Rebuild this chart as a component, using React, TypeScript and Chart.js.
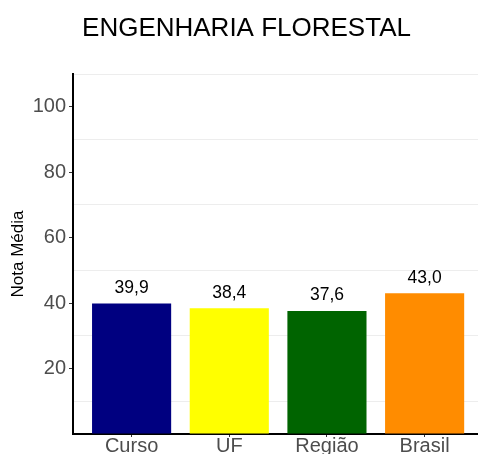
import React, { useEffect, useRef } from "react";
import { Chart, registerables } from "chart.js";

Chart.register(...registerables);

const titleText = "ENGENHARIA FLORESTAL";
const yAxisTitle = "Nota Média";
const categories = ["Curso", "UF", "Região", "Brasil"];
const values = [39.9, 38.4, 37.6, 43.0];
const barColors = ["#000080", "#ffff00", "#006400", "#ff8c00"];
const yTickLabels = [20, 40, 60, 80, 100];
const yMin = 0;
const yMax = 110;

const FONT = '"Liberation Sans", Arial, Helvetica, sans-serif';

const valueLabelPlugin = {
  id: "valueLabels",
  afterDatasetsDraw(chart: any) {
    const ctx = chart.ctx;
    const meta = chart.getDatasetMeta(0);
    ctx.save();
    ctx.font = `17.5px ${FONT}`;
    ctx.fillStyle = "#000000";
    ctx.textAlign = "center";
    ctx.textBaseline = "alphabetic";
    meta.data.forEach((bar: any, i: number) => {
      const label = values[i].toFixed(1).replace(".", ",");
      ctx.fillText(label, bar.x, bar.y - 10.5);
    });
    ctx.restore();
  },
};

export default function App() {
  const canvasRef = useRef<HTMLCanvasElement | null>(null);

  useEffect(() => {
    if (!canvasRef.current) return;
    const transparent = "rgba(0,0,0,0)";
    const chart = new Chart(canvasRef.current, {
      type: "bar",
      data: {
        datasets: [
          {
            data: values.map((v, i) => ({ x: i, y: v })),
            backgroundColor: barColors,
            borderWidth: 0,
            barPercentage: 0.81,
            categoryPercentage: 1,
          },
        ],
      },
      options: {
        responsive: false,
        animation: false,
        devicePixelRatio: 1,
        layout: { padding: { left: 0, right: 0, top: 0, bottom: 0 } },
        plugins: {
          legend: { display: false },
          tooltip: { enabled: false },
          title: {
            display: true,
            text: titleText,
            color: "#000000",
            font: { size: 26, family: FONT, weight: "normal" },
            padding: { top: 13, bottom: 29.8 },
            align: "center",
          },
        },
        scales: {
          x: {
            type: "linear",
            offset: false,
            min: -0.6,
            max: 3.7,
            afterBuildTicks: (s: any) => {
              s.ticks = categories.map((_, i) => ({ value: i }));
            },
            afterFit: (s: any) => {
              s.height = 36;
            },
            ticks: {
              autoSkip: false,
              maxRotation: 0,
              padding: -3,
              color: "#4d4d4d",
              font: { size: 20, family: FONT },
              callback: (v: any) => categories[v as number] ?? "",
            },
            grid: {
              offset: false,
              drawOnChartArea: false,
              drawTicks: true,
              tickLength: 3,
              tickColor: "#333333",
            },
            border: { display: true, color: "#000000", width: 2 },
          },
          y: {
            min: yMin,
            max: yMax,
            afterFit: (s: any) => {
              s.width = 73;
            },
            ticks: {
              stepSize: 10,
              padding: 3,
              color: "#4d4d4d",
              font: { size: 20, family: FONT },
              callback: (v: any) => (yTickLabels.includes(v as number) ? String(v) : ""),
            },
            grid: {
              color: (ctx: any) =>
                ctx.tick && ctx.tick.value % 20 === 10 ? "#ededed" : transparent,
              lineWidth: 1,
              tickLength: 4,
              tickColor: (ctx: any) =>
                ctx.tick && yTickLabels.includes(ctx.tick.value) ? "#333333" : transparent,
            },
            border: { display: true, color: "#000000", width: 2 },
            title: {
              display: true,
              text: yAxisTitle,
              color: "#000000",
              font: { size: 17, family: FONT },
              padding: { top: 8.5, bottom: 0 },
            },
          },
        },
      },
      plugins: [valueLabelPlugin],
    } as any);
    return () => chart.destroy();
  }, []);

  return (
    <div
      style={{
        position: "fixed",
        left: 0,
        top: 0,
        width: 478,
        height: 454,
        overflow: "hidden",
        background: "#ffffff",
      }}
    >
      <canvas ref={canvasRef} width={493} height={470} style={{ display: "block" }} />
    </div>
  );
}
